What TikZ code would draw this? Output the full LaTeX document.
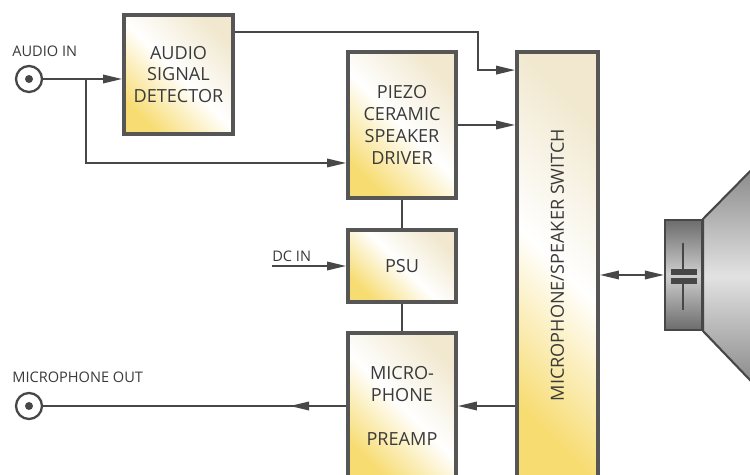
\documentclass[tikz,border=0pt]{standalone}
\usepackage{fontspec}
\setmainfont{Open Sans}
\usetikzlibrary{arrows.meta}

\definecolor{boxline}{HTML}{565656}
\definecolor{wire}{HTML}{474747}
\definecolor{ink}{HTML}{3A3A3A}
\definecolor{beige}{HTML}{F1E8CF}
\definecolor{sun}{HTML}{F7DC72}
\definecolor{steeldark}{HTML}{6C6C6C}
\definecolor{steellight}{HTML}{E2E2E2}

\newcommand{\boxfont}{\fontsize{10.3}{12.5}\selectfont}
\newcommand{\tagfont}{\fontsize{8.3}{10}\selectfont}

\begin{document}
\begin{tikzpicture}[x=0.02cm,y=-0.02cm]
\tikzstyle{block}=[draw=boxline,line width=2.2pt,rectangle,inner sep=0pt,align=center,text=ink,font=\boxfont,
  top color=beige,bottom color=sun,middle color=white,shading angle=-45]
\tikzstyle{conn}=[draw=wire,line width=1pt,-{Triangle[length=0.38cm,width=0.17cm]}]
\tikzstyle{tag}=[text=ink,font=\tagfont,inner sep=0pt,anchor=base west]
\tikzstyle{jack}=[circle,draw=wire,line width=1.3pt,minimum size=0.52cm,inner sep=0pt,
  path picture={\fill[wire] (path picture bounding box.center) circle (0.08cm);}]

\useasboundingbox (0,0) rectangle (750,475);
\clip (0,0) rectangle (750,475);

\node[block,minimum width=2.18cm,minimum height=2.38cm] (det) at (178.5,74.5) {AUDIO\\SIGNAL\\DETECTOR};
\node[block,minimum width=2.16cm,minimum height=2.92cm] (piezo) at (402,125) {PIEZO\\CERAMIC\\SPEAKER\\DRIVER};
\node[block,minimum width=2.16cm,minimum height=1.44cm] (psu) at (402,266) {PSU};
\node[block,minimum width=2.16cm,minimum height=2.92cm] (pre) at (402,406) {MICRO-\\PHONE\\[12.5pt]PREAMP};
\node[block,minimum width=1.62cm,minimum height=8.52cm,
  label={[text=ink,font=\boxfont,rotate=90]center:MICROPHONE/SPEAKER SWITCH}] (sw) at (557.5,265) {};

% speaker
\node[draw=wire,line width=1.2pt,minimum width=0.74cm,minimum height=2.2cm,inner sep=0pt,
  top color=steeldark,bottom color=steeldark,middle color=steellight!80!gray] (mag) at (683.5,275) {};
\draw[draw=wire,line width=1.2pt,top color=steeldark!90,bottom color=steeldark!90,middle color=steellight]
  (mag.north east) -- (772,149) -- (772,403) -- (mag.south east) -- cycle;
\draw[wire,line width=1pt] (683,243) -- (683,270) (683,283) -- (683,310);
\fill[wire] (671,269) rectangle (697,275);
\fill[wire] (671,278) rectangle (697,284);

% jacks and labels
\node[jack] (jin) at (29,79) {};
\node[jack] (jout) at (29,406) {};
\node[tag] (inlbl) at (12,57) {AUDIO IN};
\node[tag] (outlbl) at (12,383) {MICROPHONE OUT};
\node[tag] (dclbl) at (272,262) {DC IN};

\coordinate (split) at (86,79);
\coordinate (bend) at (478,32);
\coordinate (dcin) at (272,266);
\coordinate (micarrow) at (290,406);

\draw[conn] (jin) -- (jin -| det.west);
\draw[conn] (split) |- ([yshift=-0.76cm]piezo.west);
\draw[conn] ([yshift=0.85cm]det.east) -- (bend) |- ([yshift=-0.4cm]sw.north west);
\draw[conn] (piezo.east) -- (piezo.east -| sw.west);
\draw[wire,line width=1pt] (piezo.south) -- (psu.north);
\draw[wire,line width=1pt] (psu.south) -- (pre.north);
\draw[conn] (dcin) -- (psu.west);
\draw[conn] (pre.west -| sw.west) -- (pre.east);
\draw[wire,line width=1pt] (pre.west) -- (jout);
\draw[conn] (pre.west) -- (micarrow);
\draw[conn,{Triangle[length=0.38cm,width=0.17cm]}-{Triangle[length=0.38cm,width=0.17cm]}] (mag.west -| sw.east) -- (mag.west);
\end{tikzpicture}
\end{document}
